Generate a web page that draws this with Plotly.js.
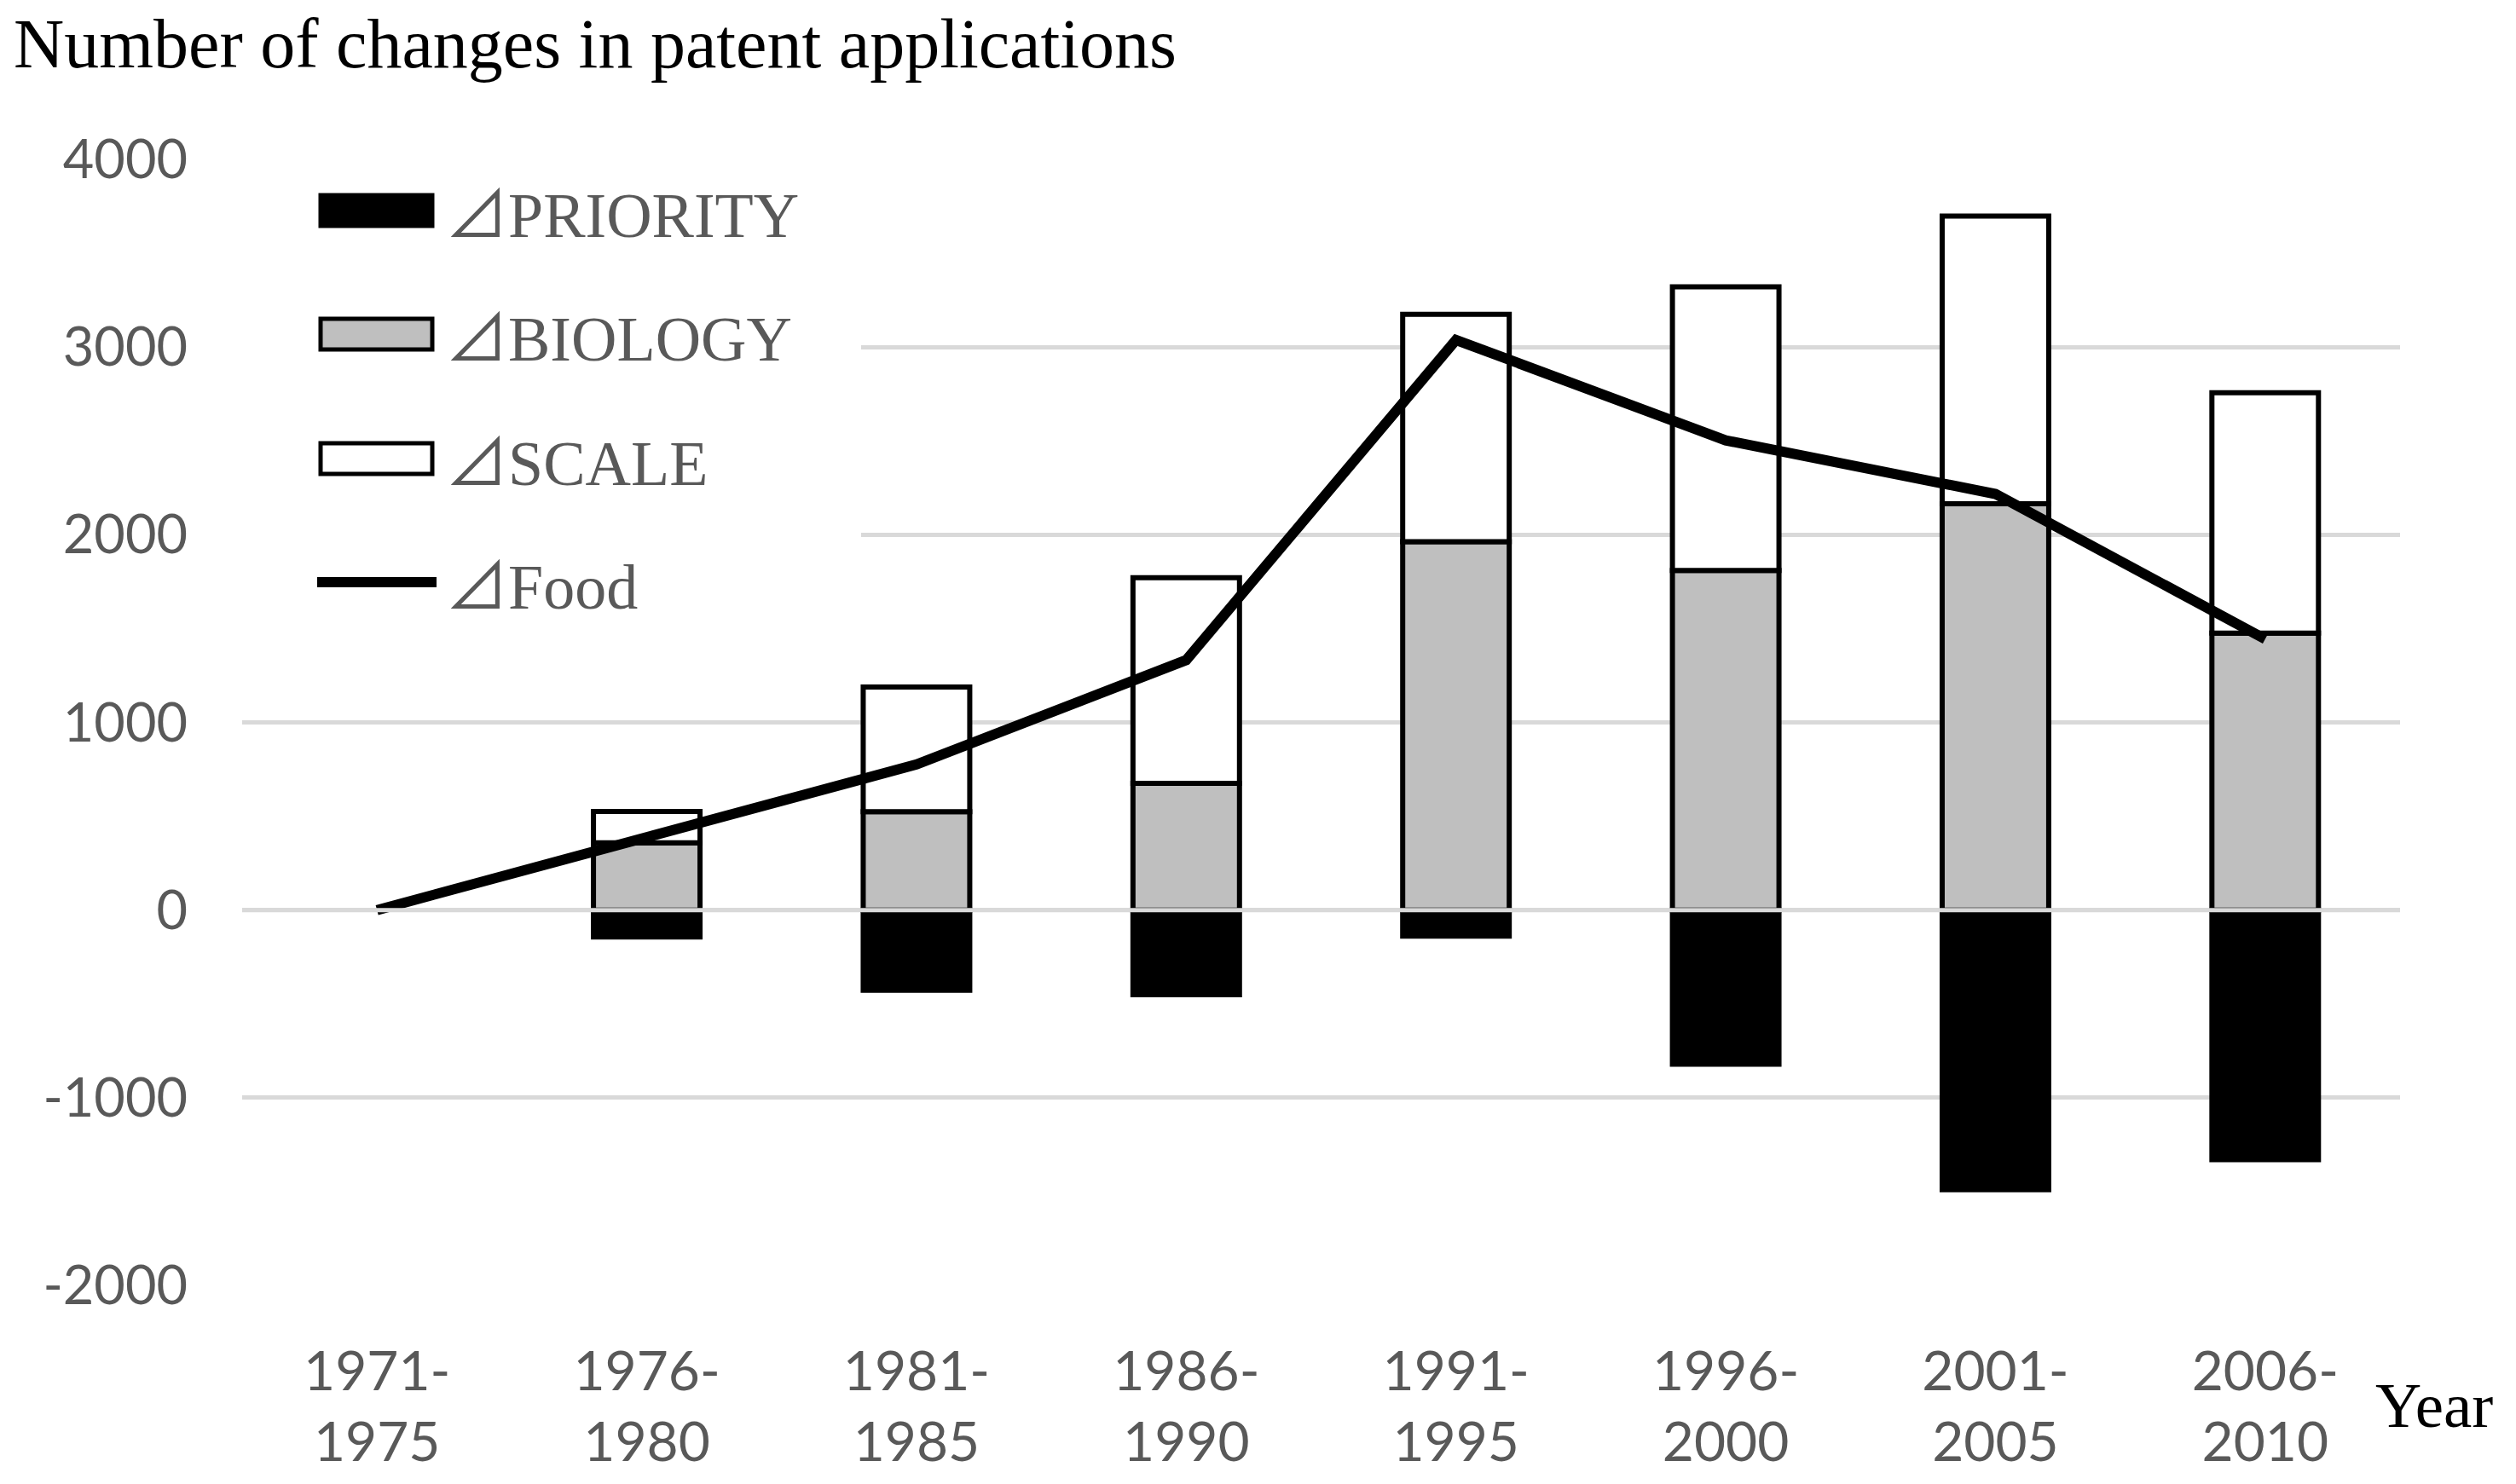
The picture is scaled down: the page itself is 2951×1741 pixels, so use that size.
<!DOCTYPE html>
<html>
<head>
<meta charset="utf-8">
<script src="https://cdn.plot.ly/plotly-3.0.1.min.js"></script>
<style>
  html, body { margin:0; padding:0; background:#ffffff; }
  #chart { width:2951px; height:1741px; }
</style>
</head>
<body>
<div id="chart"></div>
<script>
// ── Data ─────────────────────────────────────────────────────────────────────
const categories = ['1971-1975','1976-1980','1981-1985','1986-1990',
                    '1991-1995','1996-2000','2001-2005','2006-2010'];
const priority = [0, -143, -427, -451, -139, -821, -1490, -1330];
const biology  = [0,  359,  524,  675, 1963, 1810,  2165,  1476];
const scale    = [0,  166,  664, 1096, 1211, 1511,  1533,  1281];
const food     = [0,  395,  776, 1332, 3038, 2503,  2217,  1444];

const yTickVals = [-2000, -1000, 0, 1000, 2000, 3000, 4000];
const yTickText = yTickVals.map(String);
const xTickText = categories.map(c => c.replace('-', '-<br>'));

const seriesNames = ['⊿PRIORITY', '⊿BIOLOGY', '⊿SCALE', '⊿Food'];
const titleText = 'Number of changes in patent applications';
const xLabel = 'Year';

// ── Styles ───────────────────────────────────────────────────────────────────
const SANS  = 'Lato, "Open Sans", sans-serif';
const SERIF = '"Liberation Serif", "Times New Roman", "Noto Sans CJK JP", serif';
const GREY_TXT = '#595959';
const GRID = '#d9d9d9';
const FILLS = ['#000000', '#bfbfbf', '#ffffff'];

const W = 2951, H = 1741;
const M = { l:284, r:136, t:187, b:233 };
const PW = W - M.l - M.r, PH = H - M.t - M.b;
// pixel -> paper helpers (layout positions only)
const px = p => (p - M.l) / PW;
const py = p => (H - M.b - p) / PH;

const BAR_W = 0.395;

// empty (zero) bars get no outline so nothing shows at the base period
function barTrace(ys, name, fill) {
  return { type:'bar', x:categories, y:ys, name, width:BAR_W,
           marker:{ color:fill, line:{ color:'#000000', width:ys.map(v => v === 0 ? 0 : 6) } },
           hoverinfo:'skip' };
}

const traces = [
  barTrace(priority, seriesNames[0], FILLS[0]),
  barTrace(biology,  seriesNames[1], FILLS[1]),
  barTrace(scale,    seriesNames[2], FILLS[2]),
  { type:'scatter', mode:'lines', x:categories, y:food, name:seriesNames[3],
    line:{ color:'#000000', width:12 }, hoverinfo:'skip' },
];

// ── Custom legend (swatches + labels) ────────────────────────────────────────
const legendRows = [247, 392, 538, 683];   // swatch centre, px
const shapes = [
  // white legend box hides the gridlines behind it
  { type:'rect', xref:'paper', yref:'paper', x0:-0.02, x1:px(1010), y0:py(745), y1:1.03,
    fillcolor:'#ffffff', line:{ width:0 }, layer:'above' },
];
legendRows.slice(0, 3).forEach((cy, i) => {
  shapes.push({ type:'rect', xref:'paper', yref:'paper',
    x0:px(376), x1:px(507), y0:py(cy + 18), y1:py(cy - 18),
    fillcolor:FILLS[i], line:{ color:'#000000', width:5 }, layer:'above' });
});
shapes.push({ type:'line', xref:'paper', yref:'paper',
  x0:px(372), x1:px(512), y0:py(legendRows[3]), y1:py(legendRows[3]),
  line:{ color:'#000000', width:12 }, layer:'above' });
// horizontal category axis at zero (drawn over the bars, as in the original)
shapes.push({ type:'line', xref:'paper', yref:'y', x0:0, x1:1, y0:0, y1:0,
  line:{ color:GRID, width:5 }, layer:'above' });

const annotations = [
  { xref:'paper', yref:'paper', x:px(14), y:py(52), xanchor:'left', yanchor:'middle',
    text:titleText, showarrow:false, font:{ family:SERIF, size:82, color:'#000000' } },
  { xref:'paper', yref:'paper', x:px(2784), y:py(1648), xanchor:'left', yanchor:'middle',
    text:xLabel, showarrow:false, font:{ family:SERIF, size:75, color:'#000000' } },
];
legendRows.forEach((cy, i) => {
  annotations.push({ xref:'paper', yref:'paper', x:px(520), y:py(cy + 6),
    xanchor:'left', yanchor:'middle', text:seriesNames[i], showarrow:false,
    font:{ family:SERIF, size:74, color:GREY_TXT } });
});

const layout = {
  width:W, height:H, margin:M,
  paper_bgcolor:'#ffffff', plot_bgcolor:'#ffffff',
  barmode:'relative', showlegend:false, hovermode:false,
  font:{ family:SANS, color:GREY_TXT, size:64 },
  xaxis:{ type:'category', range:[-0.5, 7.5], tickvals:categories, ticktext:xTickText,
          showgrid:false, zeroline:false, showline:false, ticks:'',
          ticklabelstandoff:58, tickfont:{ family:SANS, size:64, color:GREY_TXT } },
  yaxis:{ range:[-2000, 4000], tickvals:yTickVals, ticktext:yTickText,
          showgrid:true, gridcolor:GRID, gridwidth:5, zeroline:false, showline:false,
          ticks:'', ticklabelstandoff:63, tickfont:{ family:SANS, size:63, color:GREY_TXT } },
  shapes, annotations,
};

Plotly.newPlot('chart', traces, layout, { displayModeBar:false, staticPlot:true });
</script>
</body>
</html>
